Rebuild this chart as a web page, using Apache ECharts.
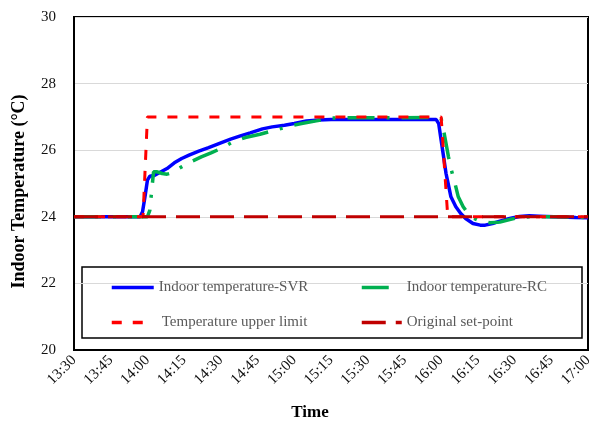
<!DOCTYPE html>
<html>
<head>
<meta charset="utf-8">
<script src="https://cdn.jsdelivr.net/npm/echarts@6/dist/echarts.min.js"></script>
<style>html,body{margin:0;padding:0;background:#fff}#c{width:589px;height:421px}</style>
</head>
<body>
<div id="c"></div>
<script>
// Minutes after 13:30
const tickLabels = ['13:30','13:45','14:00','14:15','14:30','14:45','15:00','15:15','15:30','15:45','16:00','16:15','16:30','16:45','17:00'];

const svrTime = [0,27,28,29,30,31,33,35,38,41,44,47,51,55,60,64,68,72,77,81,86,90,95,100,105,120,135,148,149,150,151,152,153,154,156,158,160,163,166,168,171,174,178,182,186,190,196,205,210];
const svrTemp = [24.0,24.0,24.15,24.6,25.1,25.22,25.25,25.33,25.45,25.62,25.75,25.85,25.97,26.08,26.22,26.33,26.43,26.52,26.64,26.7,26.75,26.8,26.88,26.91,26.92,26.92,26.92,26.92,26.8,26.3,25.8,25.3,24.95,24.6,24.3,24.1,23.95,23.8,23.75,23.75,23.8,23.87,23.95,24.01,24.03,24.02,24.0,23.98,23.97];

const rcTime = [0,30,31,31.5,32.5,34,36,38,40,44,48,52,56,60,65,70,76,81,88,93,99,105,148,150,151,152,153,154,155,156,157,159,161,163,166,170,174,178,182,186,195,210];
const rcTemp = [24.0,24.0,24.2,24.6,25.35,25.35,25.3,25.28,25.32,25.5,25.66,25.8,25.92,26.05,26.25,26.38,26.48,26.58,26.72,26.8,26.88,26.97,26.98,26.95,26.6,26.2,25.8,25.45,25.18,24.9,24.6,24.3,24.1,23.97,23.87,23.82,23.84,23.92,23.98,24.0,24.0,23.98];

const limitTime = [0,28.2,30,150,152.7,210];
const limitTemp = [24,24,27,27,24,24];

const setTime = [0,210];
const setTemp = [24,24];

const names = ['Indoor temperature-SVR','Indoor temperature-RC','Temperature upper limit','Original set-point'];

function pairs(t, v){ return t.map((x,i)=>[x, v[i]]); }

const font = 'Liberation Serif';
const chart = echarts.init(document.getElementById('c'), null, {renderer:'canvas'});

const legendBase = {
  orient:'horizontal',
  itemHeight: 10,
  itemStyle:{opacity:0},
  lineStyle:{width:3.5},
  textStyle:{fontFamily:font, fontSize:15, color:'#595959'},
  selectedMode:false,
  padding:0
};

chart.setOption({
  animation:false,
  backgroundColor:'#fff',
  grid:{left:74, right:1, top:17, bottom:71, show:true, borderColor:'#000', borderWidth:2, containLabel:false, outerBoundsMode:'none'},
  xAxis:{
    type:'value', min:0, max:210, interval:15,
    name:'Time', nameLocation:'middle', nameGap:54,
    nameTextStyle:{fontFamily:font, fontSize:17, fontWeight:'bold', color:'#000', padding:[0,42,0,0]},
    axisLine:{show:true, lineStyle:{color:'#000', width:2}},
    axisTick:{show:false},
    splitLine:{show:false},
    axisLabel:{rotate:45, margin:8, fontFamily:font, fontSize:15, color:'#111',
      formatter:function(v){ return tickLabels[Math.round(v/15)]; }}
  },
  yAxis:{
    type:'value', min:20, max:30, interval:2,
    name:'Indoor Temperature (°C)', nameLocation:'middle', nameGap:46,
    nameTextStyle:{fontFamily:font, fontSize:18, fontWeight:'bold', color:'#000', padding:[0,16,0,0]},
    axisLine:{show:true, lineStyle:{color:'#000', width:2}},
    axisTick:{show:false},
    splitLine:{show:true, lineStyle:{color:'#d9d9d9', width:1}},
    axisLabel:{margin:18, fontFamily:font, fontSize:15, color:'#111'}
  },
  graphic:[{type:'rect', z:0, shape:{x:82, y:267, width:500, height:71}, style:{fill:'#fff', stroke:'#000', lineWidth:1.5}}],
  legend:[
    Object.assign({}, legendBase, {data:[names[0]], left:110, top:280, itemWidth:42}),
    Object.assign({}, legendBase, {data:[names[1]], left:360, top:280, itemWidth:30, textStyle:{fontFamily:font, fontSize:15, color:'#595959', padding:[0,0,0,10]}}),
    Object.assign({}, legendBase, {data:[names[2]], left:110, top:315, itemWidth:40, textStyle:{fontFamily:font, fontSize:15, color:'#595959', padding:[0,0,0,5]}}),
    Object.assign({}, legendBase, {data:[names[3]], left:360, top:315, itemWidth:40})
  ],
  series:[
    {name:names[0], type:'line', data:pairs(svrTime, svrTemp), showSymbol:false, symbol:'none', z:2,
      lineStyle:{color:'#0000ff', width:3.5}, itemStyle:{color:'#0000ff'}},
    {name:names[1], type:'line', data:pairs(rcTime, rcTemp), showSymbol:false, symbol:'none', z:3,
      lineStyle:{color:'#00b050', width:3.5, type:[27,12,3,12]}, itemStyle:{color:'#00b050'}},
    {name:names[2], type:'line', data:pairs(limitTime, limitTemp), showSymbol:false, symbol:'none', z:4,
      lineStyle:{color:'#ff0000', width:3, type:[10,11]}, itemStyle:{color:'#ff0000'}},
    {name:names[3], type:'line', data:pairs(setTime, setTemp), showSymbol:false, symbol:'none', z:5,
      lineStyle:{color:'#c00000', width:3, type:[24,10]}, itemStyle:{color:'#c00000'}}
  ]
});
</script>
</body>
</html>
